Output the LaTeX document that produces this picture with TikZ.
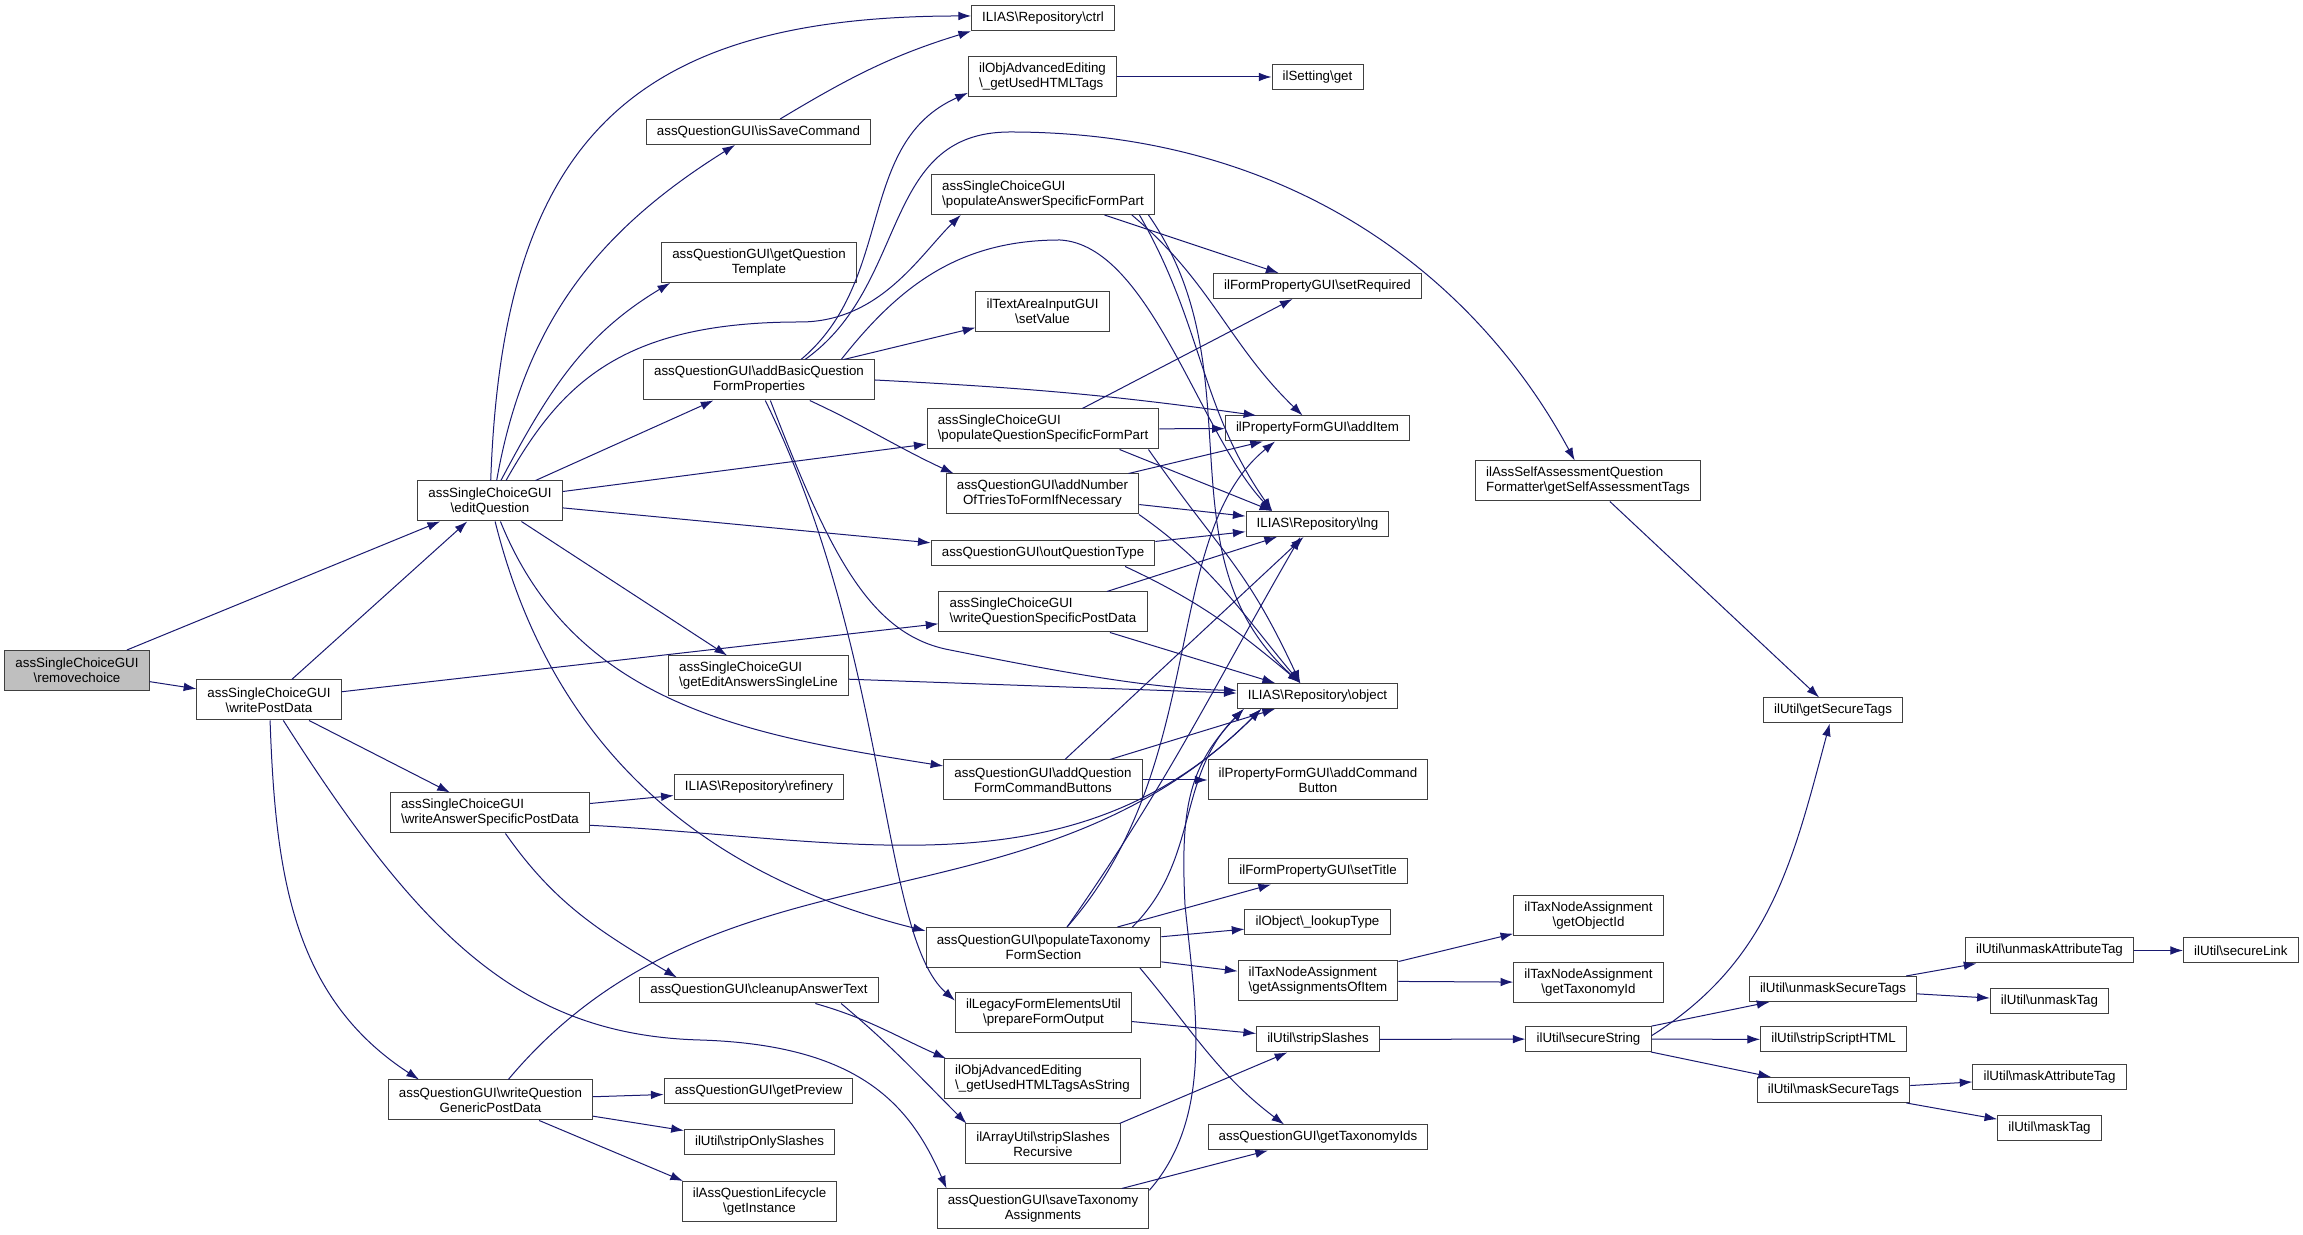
\documentclass[tikz,border=0pt]{standalone}
\usepackage{fontspec}
\setmainfont{Liberation Sans}
\usetikzlibrary{arrows.meta,positioning}
\definecolor{edgeblue}{HTML}{191970}
\definecolor{boxline}{HTML}{404040}
\definecolor{rootfill}{HTML}{BFBFBF}
\newcommand{\bsl}{\textbackslash}
\tikzset{call edge/.style={draw=edgeblue, line width=0.75pt, -{Latex[length=9.5pt,width=6.5pt]}}}
\begin{document}
\begin{tikzpicture}[x=0.75pt, y=0.75pt,
 fn/.style={draw=boxline, fill=white, line width=0.75pt, inner xsep=8pt, inner ysep=2pt,
  minimum height=18.75pt, font=\fontsize{10}{11.25}\selectfont, align=center},
 fn2/.style={fn, minimum height=30pt}, fnl/.style={fn2, align=left}, root/.style={fill=rootfill}]
\fill[white] (0,0) rectangle (2303,1235);
\useasboundingbox (0,0) rectangle (2303,1235);

\node[fn2, root] (RC) at (77,564.5) {assSingleChoiceGUI\\\bsl removechoice};
\node[fn2] (WPD) at (269,535) {assSingleChoiceGUI\\\bsl writePostData};
\node[fn2] (EQ) at (490,734) {assSingleChoiceGUI\\\bsl editQuestion};

\node[fn] (ISC) at (758.5,1103) {assQuestionGUI\bsl isSaveCommand};
\node[fn2] (GQT) at (759,972.5) {assQuestionGUI\bsl getQuestion\\Template};
\node[fn2] (ABQ) at (759,855) {assQuestionGUI\bsl addBasicQuestion\\FormProperties};
\node[fnl] (GEAS) at (758.5,559) {assSingleChoiceGUI\\\bsl getEditAnswersSingleLine};
\node[fn] (REF) at (759,447.5) {ILIAS\bsl Repository\bsl refinery};
\node[fnl] (WASP) at (490,422) {assSingleChoiceGUI\\\bsl writeAnswerSpecificPostData};
\node[fn] (CAT) at (759,244.5) {assQuestionGUI\bsl cleanupAnswerText};
\node[fn2] (WQGP) at (490.5,135) {assQuestionGUI\bsl writeQuestion\\GenericPostData};
\node[fn] (GPV) at (758.5,143.5) {assQuestionGUI\bsl getPreview};
\node[fn] (SOS) at (759.5,92.5) {ilUtil\bsl stripOnlySlashes};
\node[fn2] (GIN) at (759.5,33.5) {ilAssQuestionLifecycle\\\bsl getInstance};

\node[fn] (CTRL) at (1043,1216.5) {ILIAS\bsl Repository\bsl ctrl};
\node[fnl] (UHT) at (1042.5,1158) {ilObjAdvancedEditing\\\bsl\_getUsedHTMLTags};
\node[fnl] (PASF) at (1043,1040.5) {assSingleChoiceGUI\\\bsl populateAnswerSpecificFormPart};
\node[fn2] (SVAL) at (1042.5,923.5) {ilTextAreaInputGUI\\\bsl setValue};
\node[fnl] (PQSF) at (1043,806) {assSingleChoiceGUI\\\bsl populateQuestionSpecificFormPart};
\node[fn2] (ANT) at (1042.5,741) {assQuestionGUI\bsl addNumber\\OfTriesToFormIfNecessary};
\node[fn] (OQT) at (1043,681.5) {assQuestionGUI\bsl outQuestionType};
\node[fnl] (WQSP) at (1043,623) {assSingleChoiceGUI\\\bsl writeQuestionSpecificPostData};
\node[fn2] (AQFC) at (1043,455) {assQuestionGUI\bsl addQuestion\\FormCommandButtons};
\node[fn2] (PTFS) at (1043.5,287.5) {assQuestionGUI\bsl populateTaxonomy\\FormSection};
\node[fn2] (PFO) at (1043.5,222) {ilLegacyFormElementsUtil\\\bsl prepareFormOutput};
\node[fnl] (UHTS) at (1042.5,156) {ilObjAdvancedEditing\\\bsl\_getUsedHTMLTagsAsString};
\node[fn2] (SSR) at (1043,91) {ilArrayUtil\bsl stripSlashes\\Recursive};
\node[fn2] (STA) at (1043,26) {assQuestionGUI\bsl saveTaxonomy\\Assignments};

\node[fn] (SET) at (1317.5,1158) {ilSetting\bsl get};
\node[fn] (SREQ) at (1317.5,949) {ilFormPropertyGUI\bsl setRequired};
\node[fn] (AIT) at (1317.5,806.5) {ilPropertyFormGUI\bsl addItem};
\node[fn] (LNG) at (1317.5,711) {ILIAS\bsl Repository\bsl lng};
\node[fn] (OBJ) at (1317.5,539) {ILIAS\bsl Repository\bsl object};
\node[fn2] (ACB) at (1318,455) {ilPropertyFormGUI\bsl addCommand\\Button};
\node[fn] (STT) at (1318,363.5) {ilFormPropertyGUI\bsl setTitle};
\node[fn] (LKT) at (1317.5,312.5) {ilObject\bsl\_lookupType};
\node[fnl] (GAOI) at (1318,254) {ilTaxNodeAssignment\\\bsl getAssignmentsOfItem};
\node[fn] (SSL) at (1318,195.5) {ilUtil\bsl stripSlashes};
\node[fn] (GTIS) at (1318,97.5) {assQuestionGUI\bsl getTaxonomyIds};

\node[fnl] (SAT) at (1588,754) {ilAssSelfAssessmentQuestion\\Formatter\bsl getSelfAssessmentTags};
\node[fn2] (GOI) at (1588.5,319.5) {ilTaxNodeAssignment\\\bsl getObjectId};
\node[fn2, below=19.5pt of GOI] (GTI) {ilTaxNodeAssignment\\\bsl getTaxonomyId};
\node[fn] (SST) at (1588.5,196) {ilUtil\bsl secureString};

\node[fn] (GST) at (1833,524.5) {ilUtil\bsl getSecureTags};
\node[fn] (UST) at (1833,246) {ilUtil\bsl unmaskSecureTags};
\node[fn] (SSH) at (1833.5,195.5) {ilUtil\bsl stripScriptHTML};
\node[fn] (MST) at (1833.5,145) {ilUtil\bsl maskSecureTags};

\node[fn] (UAT) at (2049.5,284.5) {ilUtil\bsl unmaskAttributeTag};
\node[fn, below=18.75pt of UAT] (UMT) {ilUtil\bsl unmaskTag};
\node[fn] (MAT) at (2049.5,157.5) {ilUtil\bsl maskAttributeTag};
\node[fn, below=18.75pt of MAT] (MTG) {ilUtil\bsl maskTag};
\node[fn, right=36.75pt of UAT] (SLK) {ilUtil\bsl secureLink};

\draw (RC) edge[call edge] (EQ)
(RC) edge[call edge] (WPD)
(WPD) edge[call edge] (EQ)
(WPD) edge[call edge] (WQSP)
(WPD) edge[call edge] (WASP)
(WPD.-87) edge[call edge, out=-88, in=147] (WQGP.164)
(EQ.88) edge[call edge, out=88, in=180, looseness=1.3] (CTRL.178)
(EQ.72) edge[call edge, out=80, in=212] (ISC.209)
(EQ.62) edge[call edge, out=62, in=211] (GQT.193)
(EQ) edge[call edge] (ABQ)
(EQ) edge[call edge] (PQSF)
(EQ) edge[call edge] (OQT)
(EQ) edge[call edge] (GEAS)
(EQ.-63) edge[call edge, out=-68, in=171] (AQFC.172)
(EQ.-76) edge[call edge, out=-76, in=166] (PTFS.172)
(ISC.31) edge[call edge, out=31, in=197] (CTRL.190)
(ABQ.26) edge[call edge, out=40, in=204] (UHT.192)
(ABQ) edge[call edge] (SVAL)
(ABQ.0) edge[call edge, out=-3, in=172] (AIT.168)
(ABQ.-22) edge[call edge, out=-25, in=155] (ANT.167)
(UHT) edge[call edge] (SET)
(PASF) edge[call edge] (SREQ)
(PASF.-13) edge[call edge, out=-40, in=136] (AIT.139)
(PASF.-12) edge[call edge, out=-60, in=125] (LNG.164)
(PASF.-11) edge[call edge, out=-55, in=138] (OBJ.143)
(PQSF) edge[call edge] (AIT)
(PQSF) edge[call edge] (SREQ)
(PQSF.-15) edge[call edge] (LNG.164)
(PQSF.-11) edge[call edge, out=-55, in=115, looseness=1.2] (OBJ.143)
(ANT) edge[call edge] (AIT)
(ANT) edge[call edge] (LNG)
(ANT.-12) edge[call edge, out=-35, in=130] (OBJ.143)
(OQT) edge[call edge] (LNG)
(OQT.-9) edge[call edge, out=-25, in=140] (OBJ.143)
(WQSP) edge[call edge] (LNG)
(WQSP) edge[call edge] (OBJ)
(GEAS) edge[call edge] (OBJ)
(AQFC) edge[call edge] (ACB)
(AQFC) edge[call edge] (LNG)
(AQFC) edge[call edge] (OBJ)
(WASP) edge[call edge] (REF)
(WASP.-7) edge[call edge, out=-3, in=225] (OBJ.193)
(WASP.-53) edge[call edge, out=-55, in=149] (CAT.171)
(WQGP.49) edge[call edge, out=50, in=225] (OBJ.193)
(WQGP) edge[call edge] (GPV)
(WQGP) edge[call edge] (SOS)
(WQGP) edge[call edge] (GIN.165)
(CAT.-13) edge[call edge, out=-16, in=156] (UHTS.168)
(CAT.-9) edge[call edge, out=-40, in=135] (SSR.165)
(PFO) edge[call edge] (SSL)
(SSR.15) edge[call edge] (SSL)
(SSL) edge[call edge] (SST)
(SST.3) edge[call edge, out=32, in=-105] (GST.-104)
(SST) edge[call edge] (UST)
(SST) edge[call edge] (SSH)
(SST) edge[call edge] (MST)
(UST) edge[call edge] (UAT)
(UST) edge[call edge] (UMT)
(UAT) edge[call edge] (SLK)
(MST) edge[call edge] (MAT)
(MST) edge[call edge] (MTG)
(SAT) edge[call edge] (GST)
(PTFS) edge[call edge] (STT)
(PTFS) edge[call edge] (LKT)
(PTFS) edge[call edge] (GAOI)
(PTFS.-12) edge[call edge, out=-50, in=143] (GTIS.159)
(PTFS.41) edge[call edge, out=55, in=-120] (LNG.217)
(PTFS.13) edge[call edge, out=45, in=225] (OBJ.190)
(GAOI) edge[call edge] (GOI)
(GAOI) edge[call edge] (GTI)
(STA) edge[call edge] (GTIS)
;
\draw[call edge] (EQ.52) .. controls (560,850) and (620,913) .. (800,913) .. controls (880,913) and (920,980) .. (PASF.194);
\draw[call edge] (ABQ.24) .. controls (910,950) and (880,1103) .. (1010,1103) .. controls (1300,1103) and (1480,950) .. (SAT.123);
\draw[call edge] (ABQ.14) .. controls (900,950) and (960,995) .. (1060,995) .. controls (1150,990) and (1200,800) .. (LNG.164);
\draw[call edge] (ABQ.-73) .. controls (890,580) and (880,300) .. (PFO.172);
\draw[call edge] (ABQ.-61) .. controls (830,680) and (870,600) .. (950,585) .. controls (1050,565) and (1150,546) .. (OBJ.176);
\draw[call edge] (WPD.-55) .. controls (420,300) and (520,200) .. (700,195) .. controls (860,190) and (910,130) .. (STA.168);
\draw[call edge] (STA.10) .. controls (1215,120) and (1195,230) .. (1185,330) .. controls (1180,430) and (1190,470) .. (OBJ.190);
\draw[call edge] (PTFS.41) .. controls (1210,470) and (1160,700) .. (AIT.197);
\end{tikzpicture}
\end{document}
